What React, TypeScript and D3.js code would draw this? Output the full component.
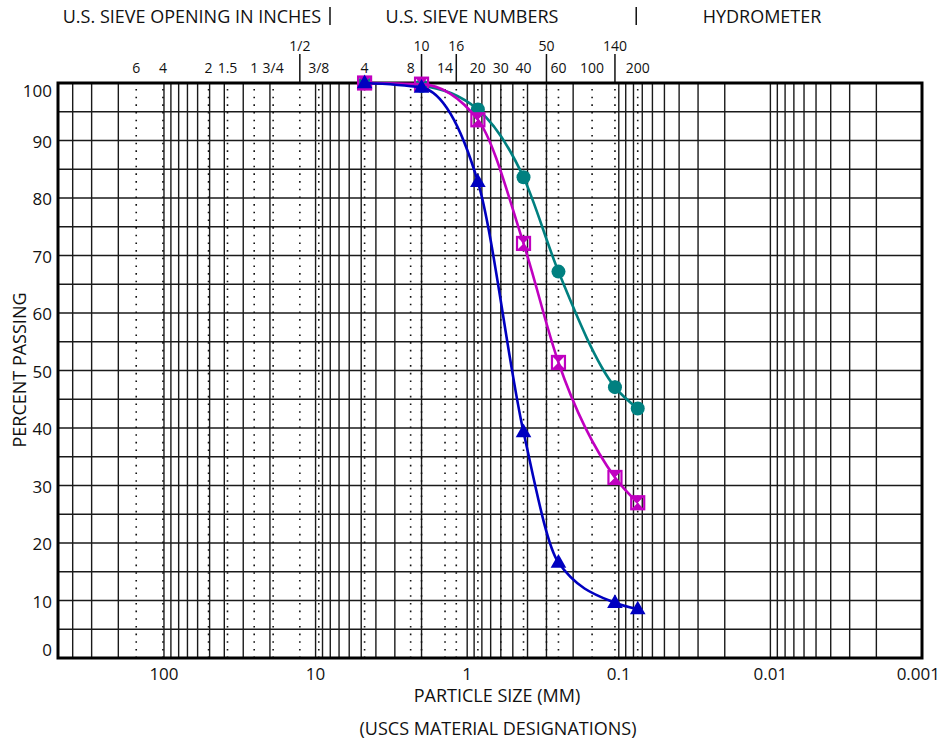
import React from "react";
import * as d3 from "d3";

const W = 941;
const H = 739;

// Sieve sizes (mm) and their labels on the top axis
const sieveLabels = ["6", "4", "2", "1.5", "1", "3/4", "1/2", "3/8", "4", "8", "10", "14", "16", "20", "30", "40", "50", "60", "100", "140", "200"];
const sieveSizes = [152.4, 101.6, 50.8, 38.1, 25.4, 19.05, 12.7, 9.525, 4.75, 2.36, 2.0, 1.4, 1.18, 0.85, 0.6, 0.425, 0.3, 0.25, 0.15, 0.106, 0.075];
const sieveRow = [2, 2, 2, 2, 2, 2, 1, 2, 2, 2, 1, 2, 1, 2, 2, 2, 1, 2, 2, 1, 2];

// Test sieve sizes (mm)
const testSizes = [4.75, 2.0, 0.85, 0.425, 0.25, 0.106, 0.075];
// Percent passing for three samples
const tealValues = [100, 99.5, 95.4, 83.6, 67.2, 47.1, 43.4];
const magentaValues = [100, 99.8, 93.6, 72.1, 51.4, 31.4, 27.0];
const blueValues = [100, 99.2, 82.8, 39.3, 16.6, 9.6, 8.5];

const xTickValues = [100, 10, 1, 0.1, 0.01, 0.001];
const xTickLabels = ["100", "10", "1", "0.1", "0.01", "0.001"];
const yTickValues = [0, 10, 20, 30, 40, 50, 60, 70, 80, 90, 100];

const FONT = "'Open Sans', 'Noto Sans', sans-serif";
const TEAL = "#008080";
const MAGENTA = "#c000c0";
const BLUE = "#0000c0";

export default function App() {
  const x = d3.scaleLog().domain([500, 0.001]).range([58, 922]);
  const y = d3.scaleLinear().domain([0, 100]).range([658, 83]);
  const [x0, x1] = x.range();
  const [yb, yt] = y.range();

  const vGrid = x.ticks();
  const hGrid = d3.range(0, 101, 5);

  const line = d3
    .line<{ s: number; p: number }>()
    .x((d) => x(d.s))
    .y((d) => y(d.p))
    .curve(d3.curveMonotoneX);

  const series = [
    { color: TEAL, values: tealValues, kind: "circle" },
    { color: MAGENTA, values: magentaValues, kind: "square" },
    { color: BLUE, values: blueValues, kind: "triangle" },
  ];

  const marker = (kind: string, color: string, cx: number, cy: number, key: string) => {
    if (kind === "circle") return <circle key={key} cx={cx} cy={cy} r={7} fill={color} />;
    if (kind === "square")
      return (
        <g key={key} transform={`translate(${cx},${cy})`}>
          <path d="M-6.5,-6.5 L6.5,-6.5 L0,0 L6.5,6.5 L-6.5,6.5 L0,0 Z" fill={color} />
          <rect x={-6.5} y={-6.5} width={13} height={13} fill="none" stroke={color} strokeWidth={2.2} />
        </g>
      );
    return <path key={key} transform={`translate(${cx},${cy})`} d="M0,-8.5 L7.8,5.2 L-7.8,5.2 Z" fill={color} />;
  };

  return (
    <svg width={W} height={H} style={{ position: "absolute", left: 0, top: 0, display: "block", background: "#fff" }} fontFamily={FONT}>
      <rect x={0} y={0} width={W} height={H} fill="#fff" />
      {/* header */}
      <g fontSize={18} fill="#111" textAnchor="middle">
        <text x={192} y={23}>U.S. SIEVE OPENING IN INCHES</text>
        <text x={472} y={23}>U.S. SIEVE NUMBERS</text>
        <text x={762} y={23}>HYDROMETER</text>
      </g>
      <line x1={330} x2={330} y1={7} y2={25} stroke="#111" strokeWidth={1.5} />
      <line x1={x(0.075) - 1.5} x2={x(0.075) - 1.5} y1={7} y2={25} stroke="#111" strokeWidth={1.5} />

      {/* grid */}
      <g stroke="#1a1a1a" strokeWidth={1.4}>
        {vGrid.map((v, i) => (
          <line key={"v" + i} x1={x(v)} x2={x(v)} y1={yt} y2={yb} />
        ))}
        {hGrid.map((v) => (
          <line key={"h" + v} x1={x0} x2={x1} y1={y(v)} y2={y(v)} />
        ))}
      </g>
      {/* sieve dotted lines */}
      <g stroke="#111" strokeWidth={1.6} strokeDasharray="1.6 6.07">
        {sieveSizes.map((s, i) => (
          <line key={"d" + i} x1={x(s)} x2={x(s)} y1={yt + 6} y2={yb} />
        ))}
      </g>
      {/* sieve top ticks for upper row */}
      <g stroke="#111" strokeWidth={1.5}>
        {sieveSizes.map((s, i) =>
          sieveRow[i] === 1 ? <line key={"t" + i} x1={x(s)} x2={x(s)} y1={54} y2={yt} /> : null
        )}
      </g>
      <g fontSize={14} fill="#111" textAnchor="middle">
        {sieveSizes.map((s, i) => (
          <text key={"l" + i} x={x(s)} y={sieveRow[i] === 1 ? 51 : 73}>
            {sieveLabels[i]}
          </text>
        ))}
      </g>

      {/* frame */}
      <rect x={x0} y={yt} width={x1 - x0} height={yb - yt} fill="none" stroke="#000" strokeWidth={3} />

      {/* y ticks */}
      <g fontSize={17} fill="#111" textAnchor="end">
        {yTickValues.map((v) => (
          <text key={"yt" + v} x={52} y={v === 100 ? 97 : v === 0 ? 656 : y(v) + 7}>
            {v}
          </text>
        ))}
      </g>
      {/* x ticks */}
      <g fontSize={17} fill="#111">
        {xTickValues.map((v, i) => {
          const last = i === xTickValues.length - 1;
          return (
            <text key={"xt" + i} x={last ? W - 1 : x(v)} y={680} textAnchor={last ? "end" : "middle"}>
              {xTickLabels[i]}
            </text>
          );
        })}
      </g>
      <text x={497} y={702} fontSize={18} fill="#111" textAnchor="middle">PARTICLE SIZE (MM)</text>
      <text x={498} y={735} fontSize={18} fill="#111" textAnchor="middle">(USCS MATERIAL DESIGNATIONS)</text>
      <text transform="translate(26,370) rotate(-90)" fontSize={18} fill="#111" textAnchor="middle">PERCENT PASSING</text>

      {/* series */}
      {series.map((sr, si) => {
        const pts = testSizes.map((s, i) => ({ s, p: sr.values[i] }));
        return (
          <g key={"s" + si}>
            <path d={line(pts) || ""} fill="none" stroke={sr.color} strokeWidth={2.6} />
            {pts.map((d, i) => marker(sr.kind, sr.color, x(d.s), y(d.p), "m" + si + "-" + i))}
          </g>
        );
      })}
    </svg>
  );
}
